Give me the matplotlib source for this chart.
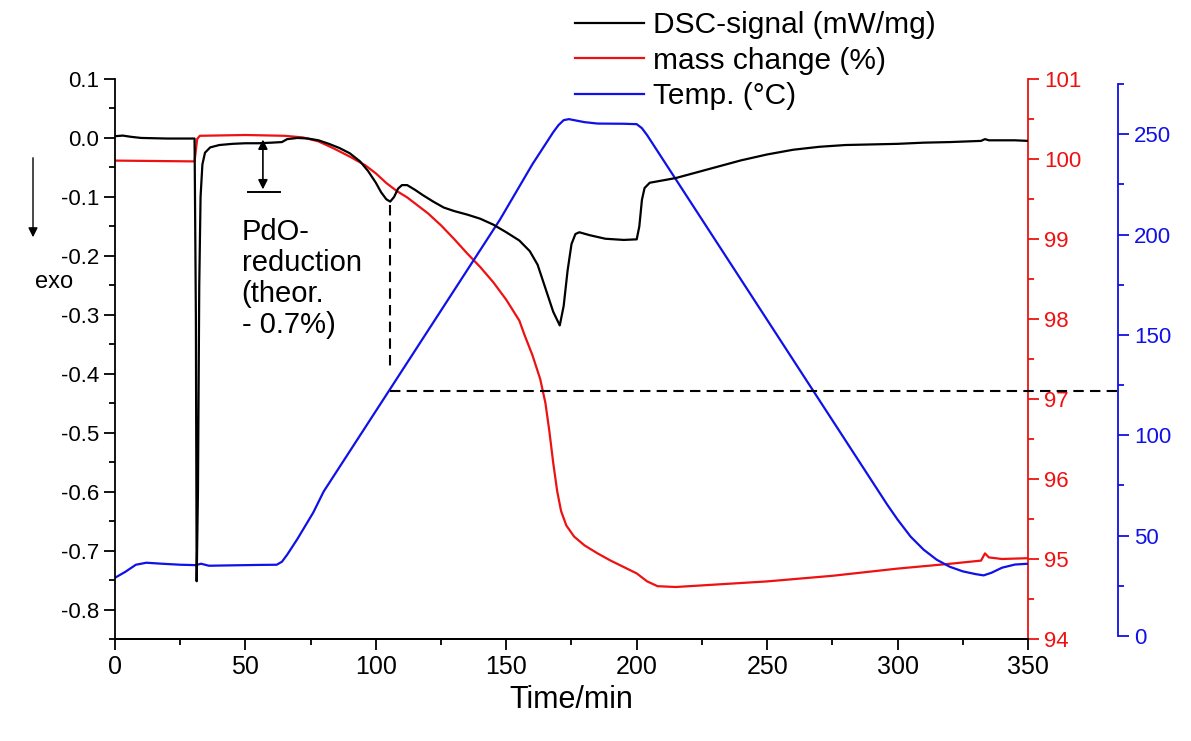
import matplotlib
matplotlib.use("Agg")
import matplotlib.pyplot as plt
from matplotlib.ticker import MultipleLocator
from matplotlib import font_manager
import numpy as np

plt.rcParams['font.family'] = ['Liberation Sans', 'DejaVu Sans']

# DSC signal (mW/mg) vs time (min)
dsc_t = [0, 3, 6, 10, 20, 30.5, 31.0, 31.3, 31.8, 32.3, 32.8, 33.5, 34.5, 36.5, 40, 45, 50, 55, 60, 64,
         66, 70, 74, 78, 82, 86, 90, 94, 97, 100, 102, 104, 105.5, 107, 108.5, 110, 112, 115, 118, 122,
         126, 130, 135, 140, 145, 150, 155, 159, 162, 165, 168, 170.5, 172, 173.5, 175, 176.5, 178, 182,
         188, 195, 200, 201, 202, 203, 205, 210, 215, 220, 230, 240, 250, 260, 270, 280, 290, 300, 310,
         320, 332, 333.5, 335, 345, 350]
dsc_v = [0.003, 0.004, 0.002, 0.000, -0.001, -0.001, -0.30, -0.752, -0.60, -0.25, -0.10, -0.045, -0.025,
         -0.016, -0.012, -0.010, -0.009, -0.009, -0.008, -0.007, -0.002, 0.000, -0.001, -0.004, -0.010,
         -0.017, -0.026, -0.040, -0.056, -0.076, -0.092, -0.104, -0.108, -0.100, -0.086, -0.080, -0.080,
         -0.088, -0.097, -0.108, -0.118, -0.124, -0.130, -0.137, -0.147, -0.160, -0.174, -0.192, -0.215,
         -0.255, -0.295, -0.318, -0.285, -0.225, -0.180, -0.163, -0.160, -0.165, -0.171, -0.173, -0.172,
         -0.150, -0.105, -0.085, -0.076, -0.072, -0.068, -0.062, -0.050, -0.038, -0.028, -0.020, -0.015,
         -0.012, -0.011, -0.010, -0.008, -0.007, -0.005, -0.002, -0.004, -0.004, -0.005]

# mass change (%)
mass_t = [0, 30.5, 31.5, 32.5, 50, 65, 72, 78, 84, 90, 96, 100, 104, 108, 112, 116, 120, 125, 130, 135,
          140, 145, 150, 155, 157, 160, 163, 165, 166.5, 168, 169.5, 171, 173, 176, 180, 185, 190, 195,
          200, 204, 208, 215, 225, 250, 275, 300, 320, 332, 333.5, 335, 340, 350]
mass_v = [99.98, 99.97, 100.25, 100.29, 100.30, 100.29, 100.27, 100.22, 100.13, 100.03, 99.92, 99.82,
          99.70, 99.60, 99.52, 99.42, 99.32, 99.17, 99.00, 98.82, 98.65, 98.46, 98.24, 97.98, 97.80,
          97.55, 97.25, 96.95, 96.6, 96.2, 95.85, 95.6, 95.42, 95.28, 95.17, 95.07, 94.98, 94.90, 94.82,
          94.72, 94.66, 94.65, 94.67, 94.72, 94.79, 94.88, 94.94, 94.98, 95.07, 95.02, 95.00, 95.01]

# temperature (deg C)
temp_t = [0, 4, 8, 12, 18, 25, 31, 33, 36, 45, 55, 62, 64, 66, 68, 70, 73, 76, 80, 147.6, 160, 165, 168,
          170, 172, 174, 180, 185, 195, 200, 202, 204, 293, 296, 300, 305, 310, 315, 320, 325, 330, 333,
          336, 340, 345, 350]
temp_v = [29, 32, 35.5, 36.5, 36, 35.5, 35.3, 36, 35, 35.2, 35.4, 35.5, 37, 40.5, 44.5, 48.5, 55, 61.5,
          72, 207.5, 235, 245, 251, 254.5, 257, 257.5, 256, 255.3, 255.2, 255, 253, 249.5, 71.5, 65.5,
          58, 49.5, 43, 38, 34.5, 32.2, 30.8, 30.2, 31.5, 34, 35.6, 36]

# dashed guide level (deg C) and the time where it starts
guide_temp = 122
guide_time = 105.4

red = '#ee1111'
blue = '#1010e8'

fig = plt.figure(figsize=(11.91, 7.41), dpi=100)
ax = fig.add_axes([115 / 1191, 1 - 639 / 741, 913 / 1191, 560 / 741])
ax2 = ax.twinx()
ax3 = ax.twinx()
ax3.spines['right'].set_position(('axes', 1 + 90 / 913))

l1, = ax.plot(dsc_t, dsc_v, color='black', lw=1.6)
l2, = ax2.plot(mass_t, mass_v, color=red, lw=1.6)
l3, = ax3.plot(temp_t, temp_v, color=blue, lw=1.6)
ax.set_zorder(3)
ax.patch.set_visible(False)

ax.set_xlim(0, 350)
ax.set_ylim(-0.85, 0.1)
ax2.set_ylim(94, 101)
ax3.set_ylim(-1.5, 277.5)
ax3.spines['right'].set_bounds(0, 275)

for a in (ax, ax2, ax3):
    a.spines['top'].set_visible(False)
    for s in a.spines.values():
        s.set_linewidth(1.3)
ax.spines['right'].set_visible(False)
ax2.spines['left'].set_visible(False)
ax3.spines['left'].set_visible(False)
ax2.spines['right'].set_color(red)
ax3.spines['right'].set_color(blue)

ax.xaxis.set_major_locator(MultipleLocator(50))
ax.xaxis.set_minor_locator(MultipleLocator(25))
ax.yaxis.set_major_locator(MultipleLocator(0.1))
ax.yaxis.set_minor_locator(MultipleLocator(0.05))
ax2.yaxis.set_major_locator(MultipleLocator(1))
ax2.yaxis.set_minor_locator(MultipleLocator(0.5))
ax3.yaxis.set_major_locator(MultipleLocator(50))
ax3.yaxis.set_minor_locator(MultipleLocator(25))
ax.yaxis.set_major_formatter(matplotlib.ticker.FuncFormatter(lambda v, p: f"{v:.1f}"))

ax.tick_params(which='major', direction='out', length=8, width=1.3, labelsize=16)
ax.tick_params(which='minor', direction='out', length=4.5, width=1.3)
ax2.tick_params(which='major', direction='out', length=8, width=1.3, labelsize=16,
                color=red, labelcolor=red)
ax2.tick_params(which='minor', direction='out', length=4.5, width=1.3, color=red)
ax3.tick_params(which='major', direction='out', length=8, width=1.3, labelsize=16,
                color=blue, labelcolor=blue)
ax3.tick_params(which='minor', direction='out', length=4.5, width=1.3, color=blue)

# narrow font for the time axis if there is one
names = {f.name for f in font_manager.fontManager.ttflist}
if 'Liberation Sans Narrow' in names:
    xfam, xsize, lsize = 'Liberation Sans Narrow', 21, 23
else:
    xfam, xsize, lsize = 'Liberation Sans', 18, 22
for lab in ax.get_xticklabels():
    lab.set_family(xfam)
    lab.set_fontsize(xsize)
ax.set_xlabel('Time/min', fontsize=lsize, family=xfam, labelpad=4)

# annotations
ax.annotate('', xy=(56.7, -0.092), xytext=(56.7, 0.002),
            arrowprops=dict(arrowstyle='<|-|>', color='black', lw=1.2, mutation_scale=14))
ax.plot([51, 63.2], [-0.092, -0.092], color='black', lw=1.4)
ax.text(48.5, -0.135, 'PdO-\nreduction\n(theor.\n- 0.7%)', fontsize=21, va='top', ha='left',
        linespacing=1.15)
ax.plot([guide_time, guide_time], [-0.114, -0.394], color='black', lw=1.5, ls=(0, (5, 3)))
ax3.plot([guide_time, 384.4], [guide_temp, guide_temp], color='black', lw=1.5, ls=(0, (5, 3)),
         clip_on=False)

fig.text(35 / 1191, 1 - 282 / 741, 'exo', fontsize=17, va='center', ha='left')
ax.annotate('', xy=(33 / 1191, 1 - 240 / 741), xytext=(33 / 1191, 1 - 155 / 741),
            xycoords='figure fraction', textcoords='figure fraction',
            arrowprops=dict(arrowstyle='-|>', color='black', lw=1.0, mutation_scale=14))

fig.legend([l1, l2, l3], ['DSC-signal (mW/mg)', 'mass change (%)', 'Temp. (°C)'],
           loc='upper left', bbox_to_anchor=(560 / 1191, 1.005), frameon=False, fontsize=21.5,
           handlelength=2.3, handletextpad=0.3, labelspacing=0.25, borderaxespad=0.1)

fig.savefig('out.png', dpi=100)
